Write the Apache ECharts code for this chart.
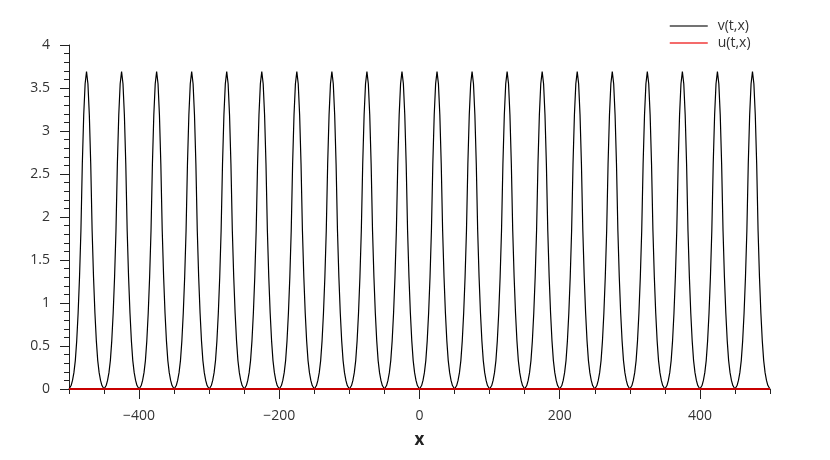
<!DOCTYPE html>
<html>
<head>
<meta charset="utf-8">
<style>
  html, body { margin: 0; padding: 0; background: #fff; }
  #chart { width: 830px; height: 460px; }
</style>
<script src="https://cdn.jsdelivr.net/npm/echarts@6/dist/echarts.min.js"></script>
</head>
<body>
<div id="chart"></div>
<script>
// peak positions of v(t,x)
const peakCenters = [-475, -425, -375, -325, -275, -225, -175, -125, -75, -25,
  25, 75, 125, 175, 225, 275, 325, 375, 425, 475]
// one pulse: distance from peak -> value
const pulseOffsets = [0, 2, 4, 6, 8, 10, 12, 14, 16, 18, 20, 22, 25]
const pulseValues = [3.69, 3.55, 3.19, 2.62, 1.84, 1.30, 0.88, 0.56, 0.33, 0.19, 0.10, 0.04, 0.0]
// u(t,x) stays on zero
const uPoints = [[-500, 0], [500, 0]]
const xLabelValues = [-400, -200, 0, 200, 400]

const vPoints = []
peakCenters.forEach((c, k) => {
  for (let i = pulseOffsets.length - 1; i > 0; i--) {
    vPoints.push([c - pulseOffsets[i], pulseValues[i]])
  }
  vPoints.push([c, pulseValues[0]])
  const last = k === peakCenters.length - 1 ? pulseOffsets.length : pulseOffsets.length - 1
  for (let i = 1; i < last; i++) {
    vPoints.push([c + pulseOffsets[i], pulseValues[i]])
  }
})

const font = 'Open Sans'
const axisColor = '#222'
const textColor = '#333'

const chart = echarts.init(document.getElementById('chart'), null, { renderer: 'canvas' })
chart.setOption({
  animation: false,
  textStyle: { fontFamily: font },
  legend: {
    orient: 'vertical',
    left: 669,
    top: 19,
    padding: 0,
    itemWidth: 38,
    itemHeight: 14,
    itemGap: 3,
    itemStyle: { opacity: 0 },
    textStyle: { fontFamily: font, fontSize: 14, color: textColor, padding: [0, 0, 0, 5] },
    data: [
      { name: 'v(t,x)', lineStyle: { color: '#444', width: 1.5 } },
      { name: 'u(t,x)', lineStyle: { color: '#f03a3a', width: 1.5 } }
    ]
  },
  grid: { left: 69, right: 60, top: 45, bottom: 71 },
  xAxis: [{
    type: 'value',
    min: -500,
    max: 500,
    interval: 50,
    name: 'x',
    nameLocation: 'middle',
    nameGap: 43,
    nameTextStyle: { fontFamily: font, fontSize: 17, fontWeight: 'bold', color: '#222' },
    axisLine: { onZero: false, lineStyle: { color: axisColor, width: 1 } },
    axisTick: { inside: false, length: 5, lineStyle: { color: axisColor } },
    axisLabel: {
      margin: 20,
      fontFamily: font,
      fontSize: 14,
      color: textColor,
      formatter: v => xLabelValues.includes(v) ? String(v).replace('-', '\u2212') : ''
    },
    splitLine: { show: false }
  }, {
    type: 'value',
    min: -500,
    max: 500,
    position: 'bottom',
    axisLine: { show: false, onZero: false },
    axisTick: { show: true, length: 10, customValues: xLabelValues, lineStyle: { color: axisColor } },
    axisLabel: { show: false },
    splitLine: { show: false }
  }],
  yAxis: {
    type: 'value',
    min: 0,
    max: 4,
    interval: 0.5,
    axisLine: { show: true, onZero: false, lineStyle: { color: axisColor, width: 1 } },
    axisTick: { show: true, length: 9, lineStyle: { color: axisColor } },
    minorTick: { show: true, splitNumber: 5, length: 5, lineStyle: { color: axisColor } },
    axisLabel: { margin: 19, fontFamily: font, fontSize: 14, color: textColor },
    splitLine: { show: false }
  },
  series: [{
    name: 'v(t,x)',
    type: 'line',
    data: vPoints,
    symbol: 'none',
    lineStyle: { color: '#000', width: 1.2 },
    itemStyle: { color: '#000' }
  }, {
    name: 'u(t,x)',
    type: 'line',
    data: uPoints,
    symbol: 'none',
    lineStyle: { color: '#c80000', width: 2 },
    itemStyle: { color: '#e02020' }
  }]
})
</script>
</body>
</html>
